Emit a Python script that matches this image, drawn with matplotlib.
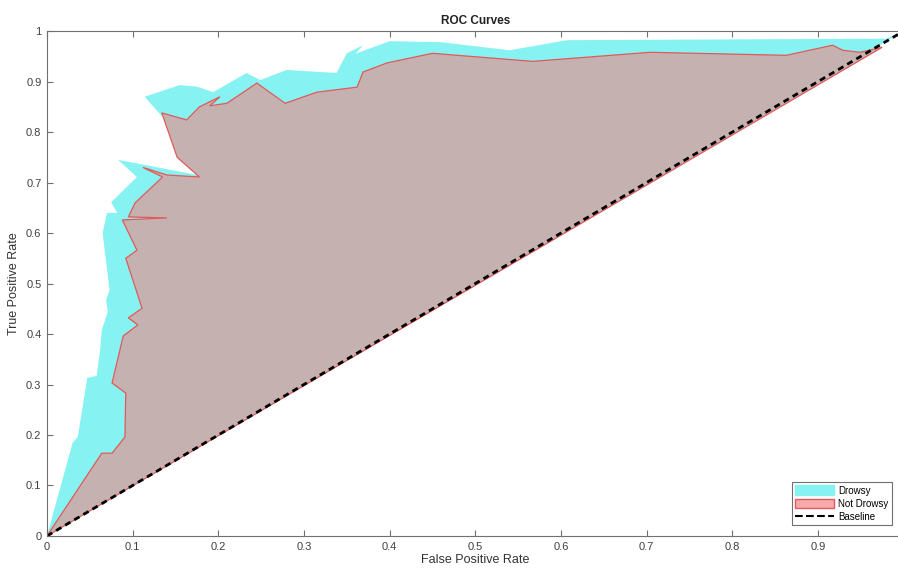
import matplotlib
matplotlib.use('Agg')
import matplotlib.pyplot as plt
from matplotlib.patches import Patch
from matplotlib.lines import Line2D

plt.rcParams['font.family'] = ['Liberation Sans', 'DejaVu Sans']

# ROC points (FPR, TPR)
drowsy_fpr = [0.000, 0.030, 0.036, 0.047, 0.058, 0.062, 0.064, 0.071, 0.069, 0.073,
              0.065, 0.070, 0.082, 0.075, 0.105, 0.083, 0.185, 0.155, 0.138, 0.114,
              0.155, 0.175, 0.194, 0.233, 0.249, 0.280, 0.338, 0.350, 0.369, 0.360,
              0.400, 0.460, 0.540, 0.607, 0.980, 1.000]
drowsy_tpr = [0.000, 0.185, 0.196, 0.313, 0.317, 0.368, 0.408, 0.444, 0.467, 0.487,
              0.600, 0.640, 0.640, 0.661, 0.711, 0.745, 0.712, 0.750, 0.824, 0.870,
              0.893, 0.890, 0.879, 0.917, 0.903, 0.923, 0.917, 0.956, 0.972, 0.955,
              0.980, 0.978, 0.962, 0.982, 0.985, 1.000]

not_drowsy_fpr = [0.000, 0.064, 0.076, 0.091, 0.092, 0.076, 0.089, 0.106, 0.095, 0.111,
                  0.092, 0.105, 0.088, 0.140, 0.095, 0.103, 0.135, 0.112, 0.140, 0.178,
                  0.152, 0.134, 0.163, 0.178, 0.202, 0.190, 0.210, 0.245, 0.278, 0.315,
                  0.362, 0.369, 0.397, 0.450, 0.567, 0.704, 0.863, 0.917, 0.929, 0.949,
                  0.975]
not_drowsy_tpr = [0.000, 0.164, 0.164, 0.196, 0.283, 0.303, 0.396, 0.418, 0.432, 0.451,
                  0.550, 0.566, 0.626, 0.630, 0.632, 0.660, 0.711, 0.730, 0.715, 0.711,
                  0.750, 0.838, 0.824, 0.850, 0.870, 0.852, 0.857, 0.897, 0.857, 0.879,
                  0.889, 0.919, 0.937, 0.956, 0.940, 0.958, 0.952, 0.972, 0.962, 0.958,
                  0.968]

baseline = [0, 1]
x_ticks = [0, 0.1, 0.2, 0.3, 0.4, 0.5, 0.6, 0.7, 0.8, 0.9]
x_tick_labels = ['0', '0.1', '0.2', '0.3', '0.4', '0.5', '0.6', '0.7', '0.8', '0.9']
y_ticks = [0, 0.1, 0.2, 0.3, 0.4, 0.5, 0.6, 0.7, 0.8, 0.9, 1]
y_tick_labels = ['0', '0.1', '0.2', '0.3', '0.4', '0.5', '0.6', '0.7', '0.8', '0.9', '1']

cyan = '#86F2F2'
brown = '#C6B1B1'
red = '#E05A5A'
pink = '#F8AAAA'

fig = plt.figure(figsize=(8.98, 5.79), dpi=100)
ax = fig.add_axes([0.0523, 0.0743, 0.954, 0.872])

# Drowsy area, then Not Drowsy on top of it
ax.fill(drowsy_fpr, drowsy_tpr, facecolor=cyan, edgecolor='none')
ax.fill(not_drowsy_fpr, not_drowsy_tpr, facecolor=brown, edgecolor=red, linewidth=0.9)
ax.plot(baseline, baseline, '--', color='black', linewidth=2, dashes=(2.2, 1.6))

ax.set_xlim(0, 1)
ax.set_ylim(0, 1)
ax.set_xticks(x_ticks)
ax.set_yticks(y_ticks)
ax.set_xticklabels(x_tick_labels)
ax.set_yticklabels(y_tick_labels)
ax.tick_params(direction='in', top=True, right=True, length=4, width=0.8,
               color='#707070', labelsize=8, labelcolor='#404040', pad=4)
for s in ax.spines.values():
    s.set_color('#707070')
    s.set_linewidth(0.8)

ax.set_xlabel('False Positive Rate', fontsize=9, color='#333333', labelpad=2)
ax.set_ylabel('True Positive Rate', fontsize=9, color='#333333', labelpad=4)
ax.set_title('ROC Curves', fontsize=8.5, fontweight='bold', color='#222222', pad=5)

handles = [Patch(facecolor=cyan, edgecolor=cyan, label='Drowsy'),
           Patch(facecolor=pink, edgecolor=red, label='Not Drowsy'),
           Line2D([0], [0], linestyle='--', color='black', linewidth=1.5, label='Baseline')]
leg = ax.legend(handles=handles, loc='lower right', bbox_to_anchor=(0.986, 0.022),
                borderaxespad=0, fontsize=7, fancybox=False, framealpha=1,
                handlelength=4, handleheight=1.2, labelspacing=0.3, borderpad=0.3,
                handletextpad=0.5)
leg.get_frame().set_edgecolor('#707070')
leg.get_frame().set_linewidth(0.8)

plt.savefig('out.png', dpi=100)
